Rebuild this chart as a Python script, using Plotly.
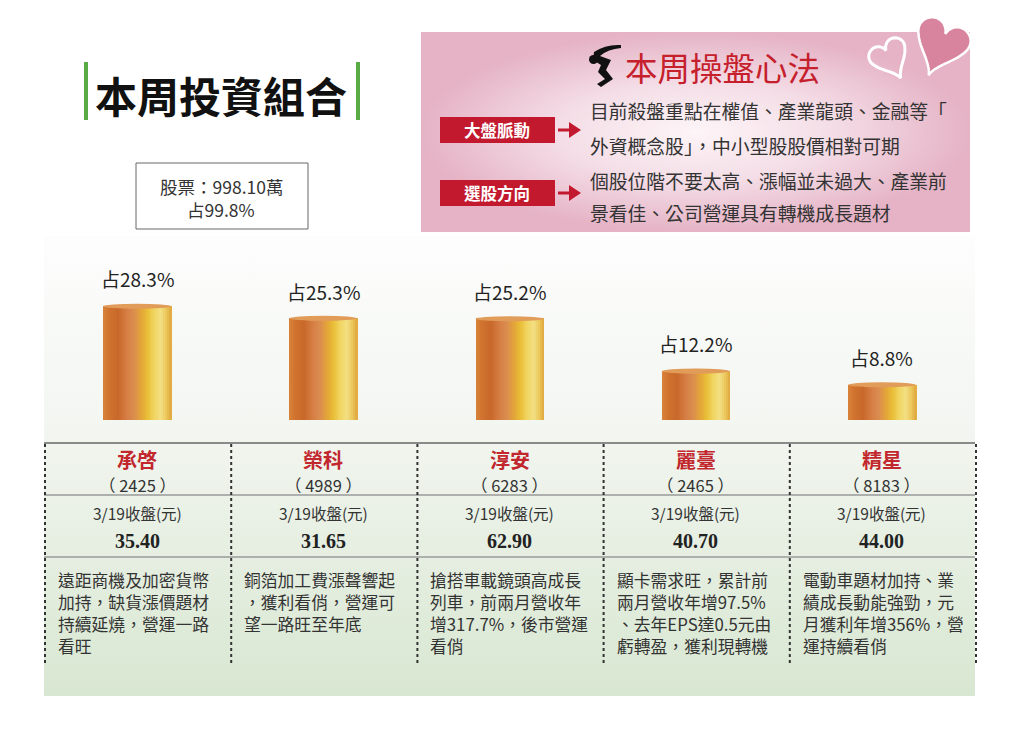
import numpy as np
import plotly.graph_objects as go

# page pixels: the html body keeps an 8px margin, so the figure is 8px smaller
OFF = 8
FW, FH = 1024 - OFF, 740 - OFF
CJK = 'Noto Sans CJK TC, Noto Sans CJK SC, sans-serif'

# ---- data ----
stocks = ['承啓', '榮科', '淳安', '麗臺', '精星']
codes = ['2425', '4989', '6283', '2465', '8183']
weights = [28.3, 25.3, 25.2, 12.2, 8.8]          # 占比 %
close_date = '3/19'
closes = [35.40, 31.65, 62.90, 40.70, 44.00]
notes = [
    ['遠距商機及加密貨幣', '加持，缺貨漲價題材', '持續延燒，營運一路', '看旺'],
    ['銅箔加工費漲聲響起', '，獲利看俏，營運可', '望一路旺至年底'],
    ['搶搭車載鏡頭高成長', '列車，前兩月營收年', '增317.7%，後市營運', '看俏'],
    ['顯卡需求旺，累計前', '兩月營收年增97.5%', '、去年EPS達0.5元由', '虧轉盈，獲利現轉機'],
    ['電動車題材加持、業', '績成長動能強勁，元', '月獲利年增356%，營', '運持續看俏'],
]
stock_amount = '998.10萬'
stock_share = 99.8
market_pulse = ['目前殺盤重點在權值、產業龍頭、金融等「', '外資概念股」，中小型股股價相對可期']
stock_picking = ['個股位階不要太高、漲幅並未過大、產業前', '景看佳、公司營運具有轉機成長題材']

# cylinder look: colour stops across the bar, left -> right
cyl_stops = [(0.0, '#d9843a'), (0.08, '#d0742f'), (0.22, '#c8682a'), (0.35, '#d67e45'),
             (0.45, '#db8c50'), (0.55, '#e2a23a'), (0.65, '#e9bd36'), (0.75, '#f0d560'),
             (0.85, '#f3df84'), (0.93, '#ecc85a'), (1.0, '#dfa63c')]

fig = go.Figure()

# ---- background panels (pixel axis x/y) ----
fig.add_trace(go.Scatter(
    x=[44, 975, 975, 44, 44], y=[236, 236, 696, 696, 236], mode='lines',
    fill='toself', line=dict(width=0), hoverinfo='skip',
    fillgradient=dict(type='vertical', start=236, stop=696,
                      colorscale=[[0, '#fdfdfd'], [0.4, '#f3f6f1'], [1, '#d8e7d1']])))
fig.add_trace(go.Scatter(
    x=[421, 970, 970, 421, 421], y=[32, 32, 232, 232, 32], mode='lines',
    fill='toself', line=dict(width=0), hoverinfo='skip',
    fillgradient=dict(type='radial',
                      colorscale=[[0, '#fdf5f8'], [0.5, '#f4dde6'], [1, '#e5b3c5']])))


def hex2rgb(h):
    return np.array([int(h[i:i + 2], 16) for i in (1, 3, 5)], dtype=float)


def cyl_color(p):
    for (p0, c0), (p1, c1) in zip(cyl_stops[:-1], cyl_stops[1:]):
        if p0 <= p <= p1:
            f = (p - p0) / (p1 - p0)
            r, g, b = hex2rgb(c0) * (1 - f) + hex2rgb(c1) * f
            return f'rgb({r:.0f},{g:.0f},{b:.0f})'
    return cyl_stops[-1][1]


# ---- cylinders ----
idx = np.arange(len(stocks))
bar_w = 68 / 186.2
n = 34
sw = bar_w / n
for k in range(n):
    fig.add_trace(go.Bar(
        x=idx, y=weights, width=sw * 1.3, offset=-bar_w / 2 + k * sw,
        marker=dict(color=cyl_color((k + 0.5) / n), line=dict(width=0)), xaxis='x2', yaxis='y2',
        hoverinfo='skip', showlegend=False))

shapes = []
annotations = []

for i, v in enumerate(weights):
    shapes.append(dict(type='circle', xref='x2', yref='y2', x0=i - bar_w / 2, x1=i + bar_w / 2,
                       y0=v - 0.7, y1=v + 0.55, fillcolor='#e29c5a', line=dict(width=0)))
    annotations.append(dict(xref='x2', yref='y2', x=i, y=v, yshift=27, text=f'占{v}%',
                            showarrow=False, font=dict(family=CJK, size=19, color='#222')))


def txt(x, y, s, size, color='#222', family=CJK, xanchor='center', bold=False, yanchor='middle'):
    if bold:
        s = f'<b>{s}</b>'
    annotations.append(dict(xref='x', yref='y', x=x, y=y, text=s, showarrow=False,
                            xanchor=xanchor, yanchor=yanchor, align='left', borderpad=0,
                            font=dict(family=family, size=size, color=color)))


# ---- title ----
txt(221, 94, '本周投資組合', 42, '#111', bold=True)
for gx in (84, 356):
    shapes.append(dict(type='rect', xref='x', yref='y', x0=gx, x1=gx + 4, y0=62, y1=120,
                       fillcolor='#5aab46', line=dict(width=0)))

# ---- stock box ----
shapes.append(dict(type='rect', xref='x', yref='y', x0=136, x1=308, y0=163, y1=229,
                   fillcolor='white', line=dict(color='#666', width=1)))
txt(221, 186, f'股票：{stock_amount}', 17.5, '#333')
txt(221, 209, f'占{stock_share}%', 17.5, '#333')

# ---- pink panel ----
txt(624, 66, '本周操盤心法', 32.5, '#c5202c', xanchor='left')
# little golfer icon
shapes.append(dict(type='path', xref='x', yref='y',
                   path='M594,52 Q606,44 621,45 L621,48 Q608,49 600,56 L611,60 L606,70 '
                        'L613,79 L601,87 L597,84 L605,79 L598,72 L601,65 L593,60 Z',
                   fillcolor='#111', line=dict(width=0)))
shapes.append(dict(type='circle', xref='x', yref='y', x0=589, x1=598, y0=55, y1=64,
                   fillcolor='#111', line=dict(width=0)))


def heart(cx, cy, s, rot):
    t = np.linspace(0, 2 * np.pi, 80)
    hx = 16 * np.sin(t) ** 3
    hy = 13 * np.cos(t) - 5 * np.cos(2 * t) - 2 * np.cos(3 * t) - np.cos(4 * t)
    hy = np.where(hy < 0, hy * 1.25, hy)
    a = np.radians(rot)
    rx = hx * np.cos(a) - hy * np.sin(a)
    ry = hx * np.sin(a) + hy * np.cos(a)
    px, py = cx + rx * s, cy - ry * s
    return 'M' + ' L'.join(f'{a:.1f},{b:.1f}' for a, b in zip(px, py)) + ' Z'


shapes.append(dict(type='path', xref='x', yref='y', path=heart(942, 42, 1.7, -22),
                   fillcolor='#d9849f', line=dict(color='white', width=2.5)))
shapes.append(dict(type='path', xref='x', yref='y', path=heart(889, 56, 1.2, 28),
                   fillcolor='rgba(0,0,0,0)', line=dict(color='white', width=3)))

for label, ly, lines, l0, l1 in (('大盤脈動', 130, market_pulse, 110, 145),
                                  ('選股方向', 193, stock_picking, 180, 212)):
    shapes.append(dict(type='rect', xref='x', yref='y', x0=440, x1=555, y0=ly - 13, y1=ly + 13,
                       fillcolor='#c2192f', line=dict(width=0)))
    shapes.append(dict(type='path', xref='x', yref='y',
                       path=f'M558,{ly - 1.5} L569,{ly - 1.5} L569,{ly - 8} L581,{ly} '
                            f'L569,{ly + 8} L569,{ly + 1.5} L558,{ly + 1.5} Z',
                       fillcolor='#c2192f', line=dict(width=0)))
    txt(497, ly, label, 16.5, 'white', bold=True)
    txt(589, l0, lines[0], 18.8, '#333', xanchor='left')
    txt(589, l1, lines[1], 18.8, '#333', xanchor='left')

# ---- table ----
col_w = (975 - 44) / len(stocks)
shapes.append(dict(type='line', xref='x', yref='y', x0=44, x1=975, y0=443, y1=443,
                   line=dict(color='#8a8a8a', width=2)))
for hy in (495, 557):
    shapes.append(dict(type='line', xref='x', yref='y', x0=44, x1=975, y0=hy, y1=hy,
                       line=dict(color='#9a9a9a', width=1.5)))
for j in range(len(stocks) + 1):
    vx = 45 + j * col_w
    shapes.append(dict(type='line', xref='x', yref='y', x0=vx, x1=vx, y0=444, y1=666,
                       line=dict(color='#333', width=2, dash='dot')))

for i, name in enumerate(stocks):
    cx = 44 + col_w * (i + 0.5)
    left = 44 + col_w * i
    txt(cx, 459, name, 20, '#c1272d', bold=True)
    txt(cx, 485, f'（ {codes[i]} ）', 16.5, '#333')
    txt(cx, 513, f'{close_date}收盤(元)', 15.5, '#333')
    txt(cx, 541, f'{closes[i]:.2f}', 20, '#222', family='Liberation Serif, DejaVu Serif, serif',
        bold=True)
    txt(left + 13, 567, '<br>'.join(notes[i]), 16.8, '#333', xanchor='left', yanchor='top')

fig.update_layout(
    width=FW, height=FH, margin=dict(l=0, r=0, t=0, b=0),
    paper_bgcolor='white', plot_bgcolor='rgba(0,0,0,0)',
    showlegend=False, barmode='overlay', bargap=0,
    xaxis=dict(range=[OFF, OFF + FW], domain=[0, 1], visible=False, fixedrange=True),
    yaxis=dict(range=[OFF + FH, OFF], domain=[0, 1], visible=False, fixedrange=True),
    xaxis2=dict(range=[-0.5, len(stocks) - 0.5],
                domain=[(44 - OFF) / FW, (975 - OFF) / FW], anchor='y2', visible=False),
    yaxis2=dict(range=[0, 170 / 4.03],
                domain=[1 - (420 - OFF) / FH, 1 - (250 - OFF) / FH], anchor='x2', visible=False),
    shapes=shapes, annotations=annotations,
)

fig.write_html('out.html')
